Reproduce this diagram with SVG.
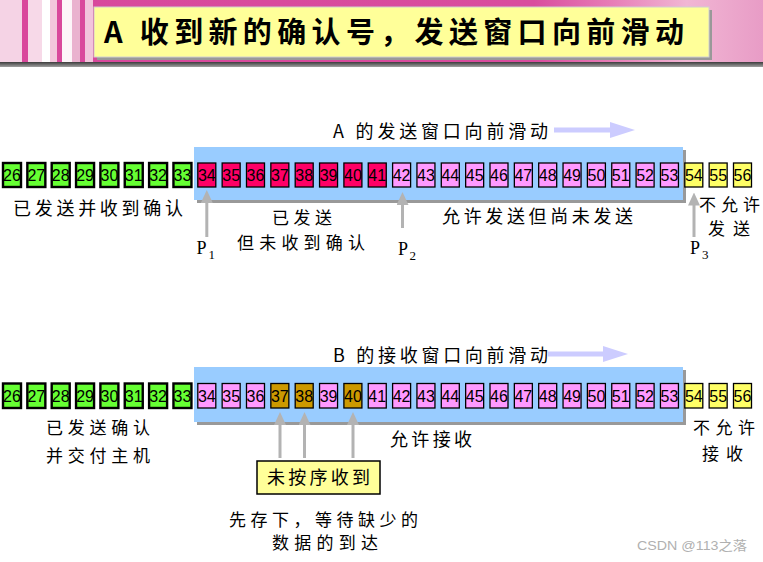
<svg xmlns="http://www.w3.org/2000/svg" width="763" height="562" viewBox="0 0 763 562">
  <defs>
    <style>
      .box rect { stroke: #000; stroke-width: 1.3; }
      .box.g rect { fill: #66ff33; stroke-width: 2.4; }
      .box.r rect { fill: #ff0066; }
      .box.p rect { fill: #ff99ff; }
      .box.y rect { fill: #ffff66; }
      .box.o rect { fill: #cc9900; }
      .box text { font-family: "Liberation Sans", Arial, sans-serif; font-size: 16px; text-anchor: middle; fill: #000; }
      .lbl { font-family: "Noto Sans CJK SC", "Liberation Serif", sans-serif; font-size: 18px; fill: #000; }
      .lbl.sm { font-size: 17px; }
      .ptr { font-family: "Liberation Serif", serif; font-size: 18px; fill: #000; }
      .ptr tspan { font-size: 13px; }
      .win { fill: #99ccff; }
      .shadow { fill: #999999; }
      .up { stroke: #b3b3b3; stroke-width: 3; fill: none; marker-end: url(#grayHead); }
      .slide { stroke: #ccccff; stroke-width: 5; fill: none; marker-end: url(#slideHead); }
    </style>
    <marker id="grayHead" markerUnits="userSpaceOnUse" viewBox="0 0 13 12" markerWidth="13" markerHeight="12" refX="7" refY="6" orient="auto">
      <path d="M0,0 L13,6 L0,12 Z" fill="#b3b3b3"/>
    </marker>
    <marker id="slideHead" markerUnits="userSpaceOnUse" viewBox="0 0 25 16" markerWidth="25" markerHeight="16" refX="10" refY="8" orient="auto">
      <path d="M0,0 L25,8 L0,16 Z" fill="#ccccff"/>
    </marker>
    <linearGradient id="stripBg" x1="0" y1="0" x2="1" y2="0">
      <stop offset="0" stop-color="#d8489c"/>
      <stop offset="0.7" stop-color="#d94c9e"/>
      <stop offset="0.8" stop-color="#e77cb6"/>
      <stop offset="0.9" stop-color="#f1b6d4"/>
      <stop offset="1" stop-color="#e89cc6"/>
    </linearGradient>
    <linearGradient id="barBg" x1="0" y1="0" x2="0" y2="1">
      <stop offset="0" stop-color="#3c3c3c"/>
      <stop offset="1" stop-color="#a0a0a0"/>
    </linearGradient>
  </defs>

  <!-- header strip -->
  <g id="header">
    <rect x="0" y="0" width="763" height="62" fill="url(#stripBg)"/>
    <rect x="0" y="0" width="22" height="62" fill="#f5d3e5"/>
    <rect x="22" y="0" width="6" height="62" fill="#d9489c"/>
    <rect x="28" y="0" width="14" height="62" fill="#f7d9e8"/>
    <rect x="42" y="0" width="8" height="62" fill="#ffffff"/>
    <rect x="50" y="0" width="7" height="62" fill="#f3c6dc"/>
    <rect x="57" y="0" width="5" height="62" fill="#d9489c"/>
    <rect x="62" y="0" width="10" height="62" fill="#fdf5f9"/>
    <rect x="72" y="0" width="8" height="62" fill="#eab2cf"/>
    <rect x="80" y="0" width="5" height="62" fill="#d9489c"/>
    <rect x="85" y="0" width="8" height="62" fill="#f2c4dc"/>
    <rect x="0" y="62" width="763" height="5" fill="url(#barBg)"/>
    <rect x="97" y="10" width="615" height="50" class="shadow"/>
    <rect x="94" y="7" width="615" height="50" fill="#ffff99" stroke="#d0d0d0" stroke-width="1"/>
    <text x="104" y="43" textLength="580" lengthAdjust="spacing" font-family="'Noto Sans CJK SC', sans-serif" font-size="29" font-weight="bold" fill="#000">A 收到新的确认号，发送窗口向前滑动</text>
  </g>

  <!-- sender window (top) -->
  <g id="sendWindow">
    <rect x="197" y="150" width="489" height="53" class="shadow"/>
    <rect x="194" y="147" width="489" height="53" class="win"/>
  </g>

  <!-- receiver window (bottom) -->
  <g id="recvWindow">
    <rect x="197" y="370" width="489" height="55" class="shadow"/>
    <rect x="194" y="367" width="489" height="55" class="win"/>
  </g>

  <!-- sender sequence numbers -->
  <g id="s26" class="box g" transform="translate(3,163)"><rect width="18" height="24"/><text x="9" y="18">26</text></g>
  <g id="s27" class="box g" transform="translate(27.35,163)"><rect width="18" height="24"/><text x="9" y="18">27</text></g>
  <g id="s28" class="box g" transform="translate(51.7,163)"><rect width="18" height="24"/><text x="9" y="18">28</text></g>
  <g id="s29" class="box g" transform="translate(76.05,163)"><rect width="18" height="24"/><text x="9" y="18">29</text></g>
  <g id="s30" class="box g" transform="translate(100.4,163)"><rect width="18" height="24"/><text x="9" y="18">30</text></g>
  <g id="s31" class="box g" transform="translate(124.75,163)"><rect width="18" height="24"/><text x="9" y="18">31</text></g>
  <g id="s32" class="box g" transform="translate(149.1,163)"><rect width="18" height="24"/><text x="9" y="18">32</text></g>
  <g id="s33" class="box g" transform="translate(173.45,163)"><rect width="18" height="24"/><text x="9" y="18">33</text></g>
  <g id="s34" class="box r" transform="translate(197.8,163)"><rect width="18" height="24"/><text x="9" y="18">34</text></g>
  <g id="s35" class="box r" transform="translate(222.15,163)"><rect width="18" height="24"/><text x="9" y="18">35</text></g>
  <g id="s36" class="box r" transform="translate(246.5,163)"><rect width="18" height="24"/><text x="9" y="18">36</text></g>
  <g id="s37" class="box r" transform="translate(270.85,163)"><rect width="18" height="24"/><text x="9" y="18">37</text></g>
  <g id="s38" class="box r" transform="translate(295.2,163)"><rect width="18" height="24"/><text x="9" y="18">38</text></g>
  <g id="s39" class="box r" transform="translate(319.55,163)"><rect width="18" height="24"/><text x="9" y="18">39</text></g>
  <g id="s40" class="box r" transform="translate(343.9,163)"><rect width="18" height="24"/><text x="9" y="18">40</text></g>
  <g id="s41" class="box r" transform="translate(368.25,163)"><rect width="18" height="24"/><text x="9" y="18">41</text></g>
  <g id="s42" class="box p" transform="translate(392.6,163)"><rect width="18" height="24"/><text x="9" y="18">42</text></g>
  <g id="s43" class="box p" transform="translate(416.95,163)"><rect width="18" height="24"/><text x="9" y="18">43</text></g>
  <g id="s44" class="box p" transform="translate(441.3,163)"><rect width="18" height="24"/><text x="9" y="18">44</text></g>
  <g id="s45" class="box p" transform="translate(465.65,163)"><rect width="18" height="24"/><text x="9" y="18">45</text></g>
  <g id="s46" class="box p" transform="translate(490,163)"><rect width="18" height="24"/><text x="9" y="18">46</text></g>
  <g id="s47" class="box p" transform="translate(514.35,163)"><rect width="18" height="24"/><text x="9" y="18">47</text></g>
  <g id="s48" class="box p" transform="translate(538.7,163)"><rect width="18" height="24"/><text x="9" y="18">48</text></g>
  <g id="s49" class="box p" transform="translate(563.05,163)"><rect width="18" height="24"/><text x="9" y="18">49</text></g>
  <g id="s50" class="box p" transform="translate(587.4,163)"><rect width="18" height="24"/><text x="9" y="18">50</text></g>
  <g id="s51" class="box p" transform="translate(611.75,163)"><rect width="18" height="24"/><text x="9" y="18">51</text></g>
  <g id="s52" class="box p" transform="translate(636.1,163)"><rect width="18" height="24"/><text x="9" y="18">52</text></g>
  <g id="s53" class="box p" transform="translate(660.45,163)"><rect width="18" height="24"/><text x="9" y="18">53</text></g>
  <g id="s54" class="box y" transform="translate(684.8,163)"><rect width="18" height="24"/><text x="9" y="18">54</text></g>
  <g id="s55" class="box y" transform="translate(709.15,163)"><rect width="18" height="24"/><text x="9" y="18">55</text></g>
  <g id="s56" class="box y" transform="translate(733.5,163)"><rect width="18" height="24"/><text x="9" y="18">56</text></g>

  <!-- receiver sequence numbers -->
  <g id="r26" class="box g" transform="translate(3,383.5)"><rect width="18" height="24.5"/><text x="9" y="18.5">26</text></g>
  <g id="r27" class="box g" transform="translate(27.35,383.5)"><rect width="18" height="24.5"/><text x="9" y="18.5">27</text></g>
  <g id="r28" class="box g" transform="translate(51.7,383.5)"><rect width="18" height="24.5"/><text x="9" y="18.5">28</text></g>
  <g id="r29" class="box g" transform="translate(76.05,383.5)"><rect width="18" height="24.5"/><text x="9" y="18.5">29</text></g>
  <g id="r30" class="box g" transform="translate(100.4,383.5)"><rect width="18" height="24.5"/><text x="9" y="18.5">30</text></g>
  <g id="r31" class="box g" transform="translate(124.75,383.5)"><rect width="18" height="24.5"/><text x="9" y="18.5">31</text></g>
  <g id="r32" class="box g" transform="translate(149.1,383.5)"><rect width="18" height="24.5"/><text x="9" y="18.5">32</text></g>
  <g id="r33" class="box g" transform="translate(173.45,383.5)"><rect width="18" height="24.5"/><text x="9" y="18.5">33</text></g>
  <g id="r34" class="box p" transform="translate(197.8,383.5)"><rect width="18" height="24.5"/><text x="9" y="18.5">34</text></g>
  <g id="r35" class="box p" transform="translate(222.15,383.5)"><rect width="18" height="24.5"/><text x="9" y="18.5">35</text></g>
  <g id="r36" class="box p" transform="translate(246.5,383.5)"><rect width="18" height="24.5"/><text x="9" y="18.5">36</text></g>
  <g id="r37" class="box o" transform="translate(270.85,383.5)"><rect width="18" height="24.5"/><text x="9" y="18.5">37</text></g>
  <g id="r38" class="box o" transform="translate(295.2,383.5)"><rect width="18" height="24.5"/><text x="9" y="18.5">38</text></g>
  <g id="r39" class="box p" transform="translate(319.55,383.5)"><rect width="18" height="24.5"/><text x="9" y="18.5">39</text></g>
  <g id="r40" class="box o" transform="translate(343.9,383.5)"><rect width="18" height="24.5"/><text x="9" y="18.5">40</text></g>
  <g id="r41" class="box p" transform="translate(368.25,383.5)"><rect width="18" height="24.5"/><text x="9" y="18.5">41</text></g>
  <g id="r42" class="box p" transform="translate(392.6,383.5)"><rect width="18" height="24.5"/><text x="9" y="18.5">42</text></g>
  <g id="r43" class="box p" transform="translate(416.95,383.5)"><rect width="18" height="24.5"/><text x="9" y="18.5">43</text></g>
  <g id="r44" class="box p" transform="translate(441.3,383.5)"><rect width="18" height="24.5"/><text x="9" y="18.5">44</text></g>
  <g id="r45" class="box p" transform="translate(465.65,383.5)"><rect width="18" height="24.5"/><text x="9" y="18.5">45</text></g>
  <g id="r46" class="box p" transform="translate(490,383.5)"><rect width="18" height="24.5"/><text x="9" y="18.5">46</text></g>
  <g id="r47" class="box p" transform="translate(514.35,383.5)"><rect width="18" height="24.5"/><text x="9" y="18.5">47</text></g>
  <g id="r48" class="box p" transform="translate(538.7,383.5)"><rect width="18" height="24.5"/><text x="9" y="18.5">48</text></g>
  <g id="r49" class="box p" transform="translate(563.05,383.5)"><rect width="18" height="24.5"/><text x="9" y="18.5">49</text></g>
  <g id="r50" class="box p" transform="translate(587.4,383.5)"><rect width="18" height="24.5"/><text x="9" y="18.5">50</text></g>
  <g id="r51" class="box p" transform="translate(611.75,383.5)"><rect width="18" height="24.5"/><text x="9" y="18.5">51</text></g>
  <g id="r52" class="box p" transform="translate(636.1,383.5)"><rect width="18" height="24.5"/><text x="9" y="18.5">52</text></g>
  <g id="r53" class="box p" transform="translate(660.45,383.5)"><rect width="18" height="24.5"/><text x="9" y="18.5">53</text></g>
  <g id="r54" class="box y" transform="translate(684.8,383.5)"><rect width="18" height="24.5"/><text x="9" y="18.5">54</text></g>
  <g id="r55" class="box y" transform="translate(709.15,383.5)"><rect width="18" height="24.5"/><text x="9" y="18.5">55</text></g>
  <g id="r56" class="box y" transform="translate(733.5,383.5)"><rect width="18" height="24.5"/><text x="9" y="18.5">56</text></g>

  <!-- out-of-order note -->
  <g id="outOfOrder">
    <rect x="257" y="461" width="123" height="33" fill="#ffff99" stroke="#000" stroke-width="1.5"/>
    <text class="lbl" x="267" y="483.5" textLength="103" lengthAdjust="spacing">未按序收到</text>
  </g>

  <!-- pointers P1, P2, P3 -->
  <g id="p1"><text class="ptr" x="196.5" y="254">P<tspan x="208.5" dy="5">1</tspan></text></g>
  <g id="p2"><text class="ptr" x="398" y="255">P<tspan x="409.5" dy="5">2</tspan></text></g>
  <g id="p3"><text class="ptr" x="690" y="253.5">P<tspan x="702" dy="5">3</tspan></text></g>

  <!-- connectors -->
  <g id="connectors">
    <line class="slide" x1="554" y1="130" x2="620" y2="130"/>
    <line class="slide" x1="548" y1="354" x2="613" y2="354"/>
    <line class="up" x1="206.8" y1="237" x2="206.8" y2="196"/>
    <line class="up" x1="402.5" y1="228" x2="402.5" y2="198"/>
    <line class="up" x1="694" y1="237" x2="694" y2="198.5"/>
    <line class="up" x1="280" y1="458" x2="280" y2="418"/>
    <line class="up" x1="304.5" y1="458" x2="304.5" y2="418"/>
    <line class="up" x1="353" y1="458" x2="353" y2="418"/>
  </g>

  <!-- labels -->
  <g id="labels">
    <text class="lbl" x="333" y="137.5" textLength="215" lengthAdjust="spacing">A 的发送窗口向前滑动</text>
    <text class="lbl" x="13" y="214.5" textLength="170" lengthAdjust="spacing">已发送并收到确认</text>
    <text class="lbl sm" x="272" y="224" textLength="60" lengthAdjust="spacing">已发送</text>
    <text class="lbl sm" x="237" y="249" textLength="128" lengthAdjust="spacing">但未收到确认</text>
    <text class="lbl" x="442" y="223" textLength="191" lengthAdjust="spacing">允许发送但尚未发送</text>
    <text class="lbl sm" x="699" y="211" textLength="61" lengthAdjust="spacing">不允许</text>
    <text class="lbl sm" x="708" y="234.5" textLength="42" lengthAdjust="spacing">发送</text>

    <text class="lbl" x="333" y="361.5" textLength="215" lengthAdjust="spacing">B 的接收窗口向前滑动</text>
    <text class="lbl sm" x="46" y="434" textLength="104" lengthAdjust="spacing">已发送确认</text>
    <text class="lbl sm" x="46" y="461.5" textLength="104" lengthAdjust="spacing">并交付主机</text>
    <text class="lbl" x="390" y="445.5" textLength="82" lengthAdjust="spacing">允许接收</text>
    <text class="lbl sm" x="693" y="434" textLength="62" lengthAdjust="spacing">不允许</text>
    <text class="lbl sm" x="702" y="459.5" textLength="41" lengthAdjust="spacing">接收</text>
    <text class="lbl sm" x="229" y="526" textLength="189" lengthAdjust="spacing">先存下，等待缺少的</text>
    <text class="lbl sm" x="272" y="549" textLength="106" lengthAdjust="spacing">数据的到达</text>
  </g>

  <text x="637" y="550" textLength="110" lengthAdjust="spacingAndGlyphs" font-family="'Liberation Sans', 'Noto Sans CJK SC', sans-serif" font-size="13" fill="#b0b0b0">CSDN @113之落</text>
</svg>
